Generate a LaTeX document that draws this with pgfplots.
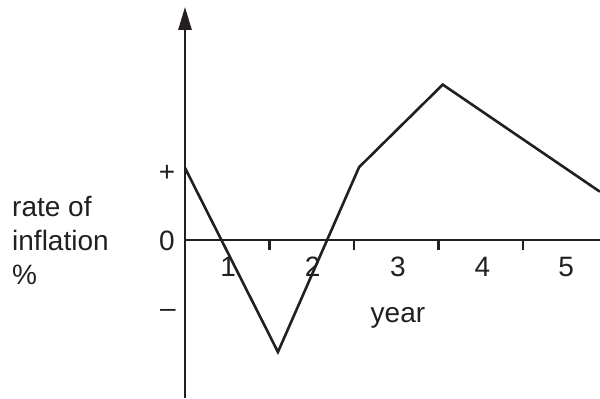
\documentclass[border=0pt]{standalone}
\usepackage{fontspec}
\setmainfont{Liberation Sans}
\usepackage{pgfplots}
\pgfplotsset{compat=1.18}
\usetikzlibrary{arrows.meta}
\definecolor{ink}{HTML}{231F20}

\begin{document}
\fontsize{28bp}{34bp}\selectfont
\begin{tikzpicture}[x=1bp, y=1bp, every node/.style={inner sep=0pt, text=ink}]
\useasboundingbox (-185,-158) rectangle (415,240);
\begin{axis}[
  anchor=origin, at={(0,0)},
  x=84.5bp, y=70bp,
  xmin=0, xmax=4.91, ymin=-2.26, ymax=3.33,
  axis lines=none, clip=false,
]
% axes
\draw[ink, line width=2.6bp] (axis cs:0,0) -- (axis cs:4.91,0);
\draw[ink, line width=2.6bp, -{Triangle[length=23bp, width=13bp]}]
  (axis cs:0,-2.26) -- (axis cs:0,3.33);
\draw[ink, line width=2.4bp] (axis cs:1,0) -- (axis cs:1,-0.145);
\draw[ink, line width=2.4bp] (axis cs:2,0) -- (axis cs:2,-0.145);
\draw[ink, line width=2.4bp] (axis cs:3,0) -- (axis cs:3,-0.145);
\draw[ink, line width=2.4bp] (axis cs:4,0) -- (axis cs:4,-0.145);

% year labels sit between the tick marks
\node[inner sep=0pt, anchor=base, yshift=-36bp] at (axis cs:0.51,0) {1};
\node[inner sep=0pt, anchor=base, yshift=-36bp] at (axis cs:1.51,0) {2};
\node[inner sep=0pt, anchor=base, yshift=-36bp] at (axis cs:2.52,0) {3};
\node[inner sep=0pt, anchor=base, yshift=-36bp] at (axis cs:3.52,0) {4};
\node[inner sep=0pt, anchor=base, yshift=-36bp] at (axis cs:4.51,0) {5};
\node[inner sep=0pt, anchor=base, yshift=-82bp] at (axis cs:2.52,0) {year};

\node[inner sep=0pt, xshift=-18bp, yshift=-3bp] at (axis cs:0,1) {+};
\node[inner sep=0pt, xshift=-18bp, yshift=-1bp] at (axis cs:0,0) {0};
\node[inner sep=0pt, xshift=-17bp, yshift=-3bp] at (axis cs:0,-1) {–};

\node[inner sep=0pt, anchor=base west, xshift=-173bp, yshift=24bp] at (axis cs:0,0) {rate of};
\node[inner sep=0pt, anchor=base west, xshift=-173bp, yshift=-10bp] at (axis cs:0,0) {inflation};
\node[inner sep=0pt, anchor=base west, xshift=-173bp, yshift=-44bp] at (axis cs:0,0) {\%};

\addplot[ink, line width=2.6bp, mark=none] coordinates
  {(0,1.03) (1.1,-1.6) (2.06,1.04) (3.05,2.22) (4.91,0.69)};
\end{axis}
\end{tikzpicture}
\end{document}
